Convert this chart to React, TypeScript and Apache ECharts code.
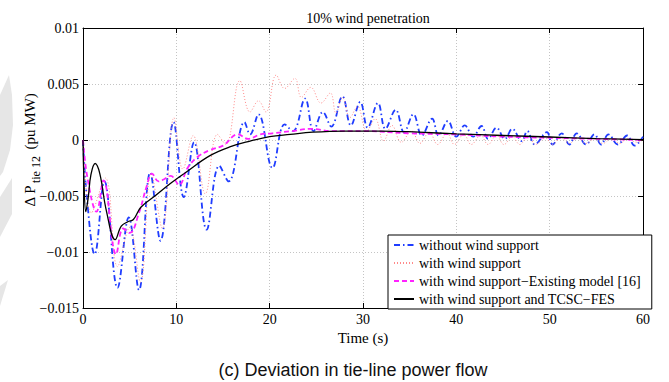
import React, { useEffect, useRef } from "react";
import * as echarts from "echarts";

const titleText = "10% wind penetration";
const xName = "Time (s)";
const caption = "(c) Deviation in tie-line power flow";
const seriesNames = [
  "without wind support",
  "with wind support",
  "with wind support\u2212Existing model [16]",
  "with wind support and TCSC\u2212FES",
];

// [time (s), ΔP tie 12 (pu MW)]
const withoutWind: number[][] = [
  [0, 0], [0.4, -0.005], [1.25, -0.0102], [2.3, -0.0037], [3.7, -0.0132], [4.9, -0.0069],
  [6.0, -0.0134], [7.2, -0.0029], [8.3, -0.009], [9.7, 0.0016], [10.8, -0.0051], [11.9, -0.0002],
  [13.25, -0.008], [14.6, -0.0023], [15.6, -0.0037], [17.3, 0.0016], [17.9, 0.0005], [18.8, 0.0023],
  [20.3, -0.0025], [21.6, 0.0014], [22.5, 0.0008], [23.8, 0.0037], [24.7, 0.0008], [25.7, 0.0025],
  [26.6, 0.0012], [27.8, 0.0039], [28.7, 0.0013], [29.7, 0.0034], [30.5, 0.0011], [31.6, 0.0033],
  [32.4, 0.001], [33.5, 0.0027], [34.4, 0.0007], [35.4, 0.0023], [36.3, 0.0004], [37.4, 0.0019],
  [38.1, 0.0004], [39.1, 0.0017], [40, 0.0003], [40.9, 0.0013], [41.8, 0.0003], [42.7, 0.00125],
  [43.4, 0.0001], [44.3, 0.0011], [45.2, 0.0001], [46, 0.001], [47, -0.0001], [47.6, 0.0008],
  [48.4, -0.0004], [49.7, 0.0007], [50.3, -0.0004], [51.3, 0.0006], [52.1, -0.0004], [52.9, 0.0006],
  [53.9, -0.0004], [54.8, 0.0005], [55.5, -0.0004], [56.3, 0.0005], [57.3, -0.0004], [58.3, 0.0004],
  [59.1, -0.0005], [60, 0.0003],
];

const withWind: number[][] = [
  [0, 0], [0.9, -0.0065], [2.4, -0.0034], [3.7, -0.0113], [5.0, -0.0078], [6.15, -0.0127],
  [7.3, -0.003], [8.5, -0.0079], [9.75, 0.002], [10.7, -0.0026], [11.8, 0.0004], [13.1, -0.0048],
  [14.4, 0.0005], [15.3, -0.0004], [16.8, 0.0053], [17.9, 0.0025], [18.8, 0.0035], [19.6, 0.0025],
  [20.7, 0.0058], [21.6, 0.0046], [22.7, 0.0055], [23.4, 0.0038], [24.4, 0.0047], [25.5, 0.0033],
  [26.5, 0.0042], [27.1, 0.0024], [27.8, 0.0038], [28.6, 0.002], [29.4, 0.003], [30.4, 0.0008],
  [31.3, 0.0019], [32.2, -0.0001], [33.1, 0.0013], [34.1, -0.0002], [35.2, 0.0008], [36.1, -0.0003],
  [37.1, 0.0007], [38, -0.0004], [39, 0.0006], [39.8, -0.0004], [40.8, 0.0005], [41.6, -0.0004],
  [42.6, 0.0004], [43.4, -0.0004], [44.3, 0.0004], [45.1, -0.0004], [46, 0.0003], [46.8, -0.0004],
  [47.7, 0.0003], [48.5, -0.0004], [49.5, 0.0002], [50.3, -0.0004], [51.2, 0.0002], [52.1, -0.0003],
  [53, 0.0002], [53.9, -0.0003], [54.8, 0.0001], [55.7, -0.0003], [56.6, 0.0001], [57.5, -0.0003],
  [58.4, 0.0001], [59.3, -0.0002], [60, 0],
];

const existingModel: number[][] = [
  [0, 0], [0.5, -0.0035], [1.45, -0.0064], [2.2, -0.0036], [3.55, -0.0102], [4.3, -0.0079],
  [5.0, -0.0083], [6.0, -0.0065], [6.8, -0.0042], [7.4, -0.003], [8.1, -0.0037], [8.7, -0.0035],
  [9.4, -0.0032], [10.3, -0.004], [11.2, -0.0025], [12.3, -0.0015], [13.6, -0.0009], [15, -0.0005],
  [16.6, 0.0005], [17.7, 0.0001], [19, 0.0005], [20.3, 0.0006], [22.4, 0.0008], [24.5, 0.001],
  [26.6, 0.0008], [30, 0.0008], [35, 0.0006], [40, 0.0005], [45, 0.0003], [50, 0.0002],
  [55, 0.0001], [60, 0],
];

const tcscFes: number[][] = [
  [0, 0], [0.1, -0.0035], [0.3, -0.0064], [0.55, -0.0052], [0.85, -0.0031], [1.3, -0.0021],
  [1.8, -0.003], [2.5, -0.0063], [3.45, -0.0089], [4.1, -0.0077], [4.8, -0.0073], [5.4, -0.0071],
  [6.2, -0.006], [7.7, -0.005], [9.5, -0.0038], [11, -0.0029], [13.6, -0.0014], [15.8, -0.0006],
  [17.9, -0.0001], [20, 0.0003], [22.2, 0.0005], [24.6, 0.0007], [28, 0.0008], [32, 0.0008],
  [36, 0.0007], [40, 0.00055], [45, 0.0004], [50, 0.00027], [55, 0.00013], [60, 0.00003],
];

const SERIF = "'Liberation Serif', 'Times New Roman', serif";

function fmtY(v: number): string {
  const r = Number(v.toFixed(4));
  if (r === 0) return "0";
  return String(r).replace("-", "\u2212");
}

export default function App() {
  const ref = useRef<HTMLDivElement>(null);
  useEffect(() => {
    if (!ref.current) return;
    const chart = echarts.init(ref.current, undefined, { renderer: "svg" });
    const grey = "#e6e6e6";
    const commonLine = { type: "line", showSymbol: false, symbol: "none", smooth: 0.4 };
    const axisCommon = {
      axisLine: { show: true, onZero: false, lineStyle: { color: "#000", width: 1 } },
      axisTick: { show: true, inside: true, length: 5, lineStyle: { color: "#000" } },
    };
    chart.setOption({
      animation: false,
      backgroundColor: "#ffffff",
      title: {
        text: titleText,
        left: 363,
        top: 6,
        textAlign: "center",
        textStyle: { fontFamily: SERIF, fontSize: 14, fontWeight: "normal", color: "#000" },
      },
      grid: { left: 83, right: 26, top: 28, bottom: 74 },
      legend: {
        orient: "vertical",
        left: 388,
        top: 235,
        padding: [3, 11, 3, 5],
        itemWidth: 20,
        itemHeight: 14,
        itemGap: 4,
        borderColor: "#000",
        borderWidth: 1,
        backgroundColor: "#fff",
        z: 10,
        itemStyle: { color: "transparent", borderColor: "transparent", borderWidth: 0 },
        textStyle: { fontFamily: SERIF, fontSize: 14, color: "#000", lineHeight: 14 },
        data: seriesNames,
      },
      xAxis: [
        {
          type: "value",
          min: 0,
          max: 60,
          interval: 10,
          name: xName,
          nameLocation: "middle",
          nameGap: 15,
          nameTextStyle: { fontFamily: SERIF, fontSize: 15, color: "#000" },
          ...axisCommon,
          axisLabel: { fontFamily: SERIF, fontSize: 14, color: "#000", margin: 4 },
          splitLine: { show: true, lineStyle: { color: "#c4c4c4", type: [1, 2], width: 1 } },
        },
        {
          type: "value",
          min: 0,
          max: 60,
          interval: 10,
          position: "top",
          ...axisCommon,
          axisLabel: { show: false },
          splitLine: { show: false },
        },
      ],
      yAxis: [
        {
          type: "value",
          min: -0.015,
          max: 0.01,
          interval: 0.005,
          ...axisCommon,
          axisLabel: { fontFamily: SERIF, fontSize: 14, color: "#000", margin: 4, formatter: fmtY },
          splitLine: { show: true, lineStyle: { color: "#c4c4c4", type: [1, 2], width: 1 } },
        },
        {
          type: "value",
          min: -0.015,
          max: 0.01,
          interval: 0.005,
          position: "right",
          ...axisCommon,
          axisLabel: { show: false },
          splitLine: { show: false },
        },
      ],
      series: [
        {
          ...commonLine,
          name: seriesNames[0],
          data: withoutWind,
          color: "#1f3dff",
          lineStyle: { color: "#1f3dff", width: 1.8, type: [6, 3, 1.5, 3] },
        },
        {
          ...commonLine,
          name: seriesNames[1],
          data: withWind,
          color: "#ff8a8a",
          lineStyle: { color: "#ff8a8a", width: 1, type: [1, 2] },
        },
        {
          ...commonLine,
          name: seriesNames[2],
          data: existingModel,
          color: "#ff22ff",
          lineStyle: { color: "#ff22ff", width: 1.8, type: [5, 3] },
        },
        {
          ...commonLine,
          name: seriesNames[3],
          data: tcscFes,
          color: "#000000",
          lineStyle: { color: "#000000", width: 1.3, type: "solid" },
        },
      ],
      graphic: [
        {
          type: "polygon",
          silent: true,
          z: -1,
          shape: { points: [[0, 95], [9, 75], [12, 95], [13, 125], [10, 150], [3, 172], [0, 176]] },
          style: { fill: grey },
        },
        {
          type: "polygon",
          silent: true,
          z: -1,
          shape: { points: [[0, 197], [12, 178], [12, 214], [0, 237]] },
          style: { fill: grey },
        },
        {
          type: "polygon",
          silent: true,
          z: -1,
          shape: { points: [[0, 286], [8, 280], [0, 306]] },
          style: { fill: grey },
        },
        {
          type: "text",
          x: 30,
          y: 150,
          rotation: Math.PI / 2,
          style: {
            text: "{a|\u0394 P}{b|tie 12}{a| (pu MW)}",
            align: "center",
            verticalAlign: "middle",
            fill: "#000",
            rich: {
              a: { fontFamily: SERIF, fontSize: 15, lineHeight: 24, verticalAlign: "middle", fill: "#000" },
              b: {
                fontFamily: SERIF,
                fontSize: 12,
                lineHeight: 24,
                verticalAlign: "bottom",
                fill: "#000",
                padding: [0, 3, 0, 2],
              },
            },
          },
        },
        {
          type: "text",
          x: 353,
          y: 370,
          style: {
            text: caption,
            align: "center",
            verticalAlign: "middle",
            fontFamily: "'Liberation Sans', Arial, sans-serif",
            fontSize: 18,
            fill: "#111",
          },
        },
      ],
    });
    return () => chart.dispose();
  }, []);
  return <div ref={ref} style={{ width: 669, height: 382, position: "absolute", left: 0, top: 0 }} />;
}
